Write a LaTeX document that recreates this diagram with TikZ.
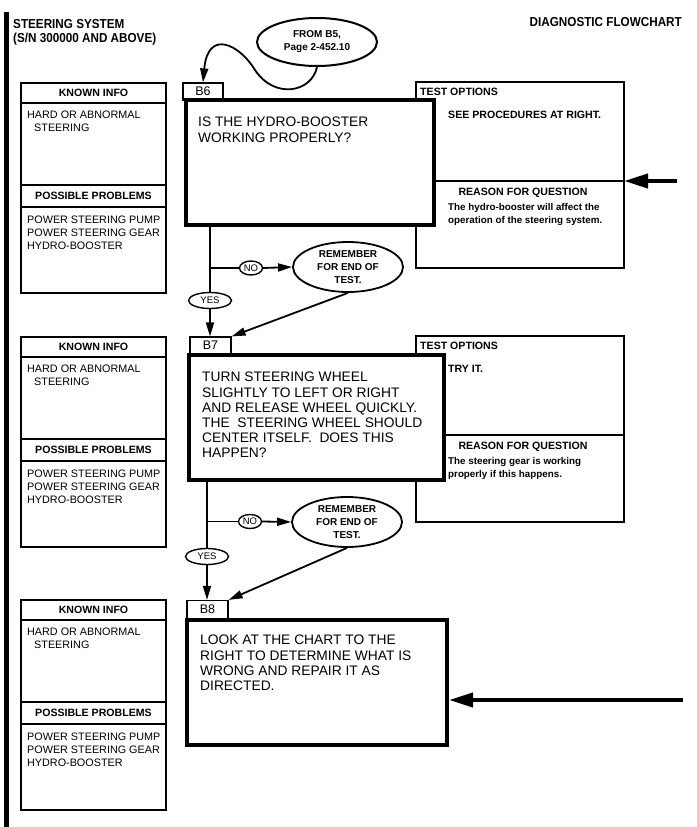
\documentclass[tikz,border=0pt]{standalone}
\usepackage{fontspec}
\setmainfont{Liberation Sans}
\newfontfamily\headfont[FakeStretch=0.9]{Liberation Sans}
\usetikzlibrary{shapes.geometric,arrows.meta}

\begin{document}
\begin{tikzpicture}[x=1pt,y=-1pt,
 title/.style={inner sep=0pt,font=\headfont\bfseries\fontsize{13}{15}\selectfont},
 lbl/.style={draw,line width=1.2pt,inner sep=0pt,font=\fontsize{12.5}{14}\selectfont},
 qbox/.style={draw,line width=4pt,fill=white,inner sep=0pt},
 qtext/.style={anchor=north west,align=left,inner sep=0pt,font=\fontsize{13.8}{15.2}\selectfont},
 hdr/.style={inner sep=0pt,font=\bfseries\fontsize{10.6}{12}\selectfont},
 list/.style={anchor=north west,align=left,inner sep=0pt,font=\fontsize{10.8}{13}\selectfont},
 why/.style={anchor=north west,align=left,inner sep=0pt,font=\bfseries\fontsize{9.8}{13}\selectfont},
 rem/.style={ellipse,draw,line width=1.8pt,minimum width=110pt,minimum height=50pt,inner sep=0pt,align=center,font=\bfseries\fontsize{10}{13}\selectfont},
 yn/.style={ellipse,draw,line width=1.4pt,inner sep=0pt,font=\fontsize{9.5}{10}\selectfont},
 conn/.style={line width=1.8pt},
 arr/.style={line width=1.8pt,-{Triangle[length=14pt,width=8pt]}},
 bigarr/.style={line width=4pt,-{Triangle[length=24pt,width=14pt]}}
]
\useasboundingbox (0,0) rectangle (696,827);
\fill (4,12) rectangle (9,827);

% page heading
\node[title,anchor=base west] (title1) at (13,28) {STEERING SYSTEM};
\node[title,anchor=base west] (title2) at (13,42) {(S/N 300000 AND ABOVE)};
\node[title,anchor=base east] (title3) at (682,26) {DIAGNOSTIC FLOWCHART};

\node[ellipse,draw,line width=2pt,minimum width=120pt,minimum height=48pt,inner sep=0pt,
 align=center,font=\bfseries\fontsize{10}{13}\selectfont] (from5) at (317,42) {FROM B5,\\Page 2-452.10};

% known info / possible problems
\foreach \y in {83,337,600} {
  \draw[line width=1.2pt] (21,\y) rectangle (166,\y+210);
  \draw[line width=1.2pt] (21,\y+20) -- (166,\y+20);
  \draw[line width=1.2pt] (21,\y+102) -- (166,\y+102);
  \draw[line width=1.2pt] (21,\y+124) -- (166,\y+124);
  \node[hdr] (known\y) at (93.5,\y+10) {KNOWN INFO};
  \node[list] (info\y) at (27,\y+28) {HARD OR ABNORMAL\\\hspace*{7pt}STEERING};
  \node[hdr] (poss\y) at (93.5,\y+113) {POSSIBLE PROBLEMS};
  \node[list] (prob\y) at (27,\y+133) {POWER STEERING PUMP\\POWER STEERING GEAR\\HYDRO-BOOSTER};
}

% test options / reason for question
\foreach \y/\opt/\reason in {82/{SEE PROCEDURES AT RIGHT.}/{The hydro-booster will affect the\\operation of the steering system.},
  336/{TRY IT.}/{The steering gear is working\\properly if this happens.}} {
  \draw[line width=1.4pt] (416,\y) rectangle (624,\y+186);
  \draw[line width=1.4pt] (416,\y+99) -- (624,\y+99);
  \coordinate (tr\y) at (624,\y+99);
  \node[hdr,anchor=west] (test\y) at (420,\y+10) {TEST OPTIONS};
  \node[hdr,anchor=west] (opt\y) at (448,\y+33) {\opt};
  \node[hdr] (reason\y) at (523,\y+111) {REASON FOR QUESTION};
  \node[why] (why\y) at (448,\y+121) {\reason};
}

% step labels and question boxes
\node[lbl,minimum width=40pt,minimum height=17pt] (lab6) at (203,91.5) {B6};
\node[lbl,minimum width=41pt,minimum height=17pt] (lab7) at (210.5,345.5) {B7};
\node[lbl,minimum width=41pt,minimum height=18pt] (lab8) at (207.5,609.5) {B8};

\node[qbox,minimum width=248pt,minimum height=125pt] (q6) at (310,162.5) {};
\node[qbox,minimum width=255pt,minimum height=125pt] (q7) at (316.5,417.5) {};
\node[qbox,minimum width=260pt,minimum height=125pt] (q8) at (317,682.5) {};

\node[qtext] (t6) at (198,117) {IS THE HYDRO-BOOSTER\\WORKING PROPERLY?};
\node[qtext] (t7) at (202,372) {TURN STEERING WHEEL\\SLIGHTLY TO LEFT OR RIGHT\\AND RELEASE WHEEL QUICKLY.\\THE\ \ STEERING WHEEL SHOULD\\CENTER ITSELF.\ \ DOES THIS\\HAPPEN?};
\node[qtext] (t8) at (200,635) {LOOK AT THE CHART TO THE\\RIGHT TO DETERMINE WHAT IS\\WRONG AND REPAIR IT AS\\DIRECTED.};

% entry curve
\draw[arr] (from5.south) .. controls (312,92) and (275,100) .. (255,70)
 .. controls (240,45) and (208,28) .. (lab6.north);

% B6 answers
\node[yn,minimum width=43pt,minimum height=16pt] (yes6) at (210,300.5) {YES};
\node[yn,minimum width=23pt,minimum height=14pt] (no6) at (251,268) {NO};
\node[rem] (rem6) at (348,267) {REMEMBER\\FOR END OF\\TEST.};
\draw[conn] (yes6.north |- q6.south) -- (yes6.north);
\draw[conn] (yes6.north |- no6) -- (no6.west);
\draw[arr] (no6.east) -- (rem6.west);
\draw[arr] (yes6.south) -- (yes6.south |- lab7.north);
\draw[arr] (rem6.south) -- (lab7.north east);

% B7 answers
\node[yn,minimum width=43pt,minimum height=16pt] (yes7) at (207,556.5) {YES};
\node[yn,minimum width=23pt,minimum height=14pt] (no7) at (250,521.5) {NO};
\node[rem] (rem7) at (347,522) {REMEMBER\\FOR END OF\\TEST.};
\draw[conn] (yes7.north |- q7.south) -- (yes7.north);
\draw[conn] (yes7.north |- no7) -- (no7.west);
\draw[arr] (no7.east) -- (rem7.west);
\draw[arr] (yes7.south) -- (yes7.south |- lab8.north);
\draw[arr] (rem7.south) -- (lab8.north east);

% arrows from the right
\coordinate (in6) at (677,181);
\coordinate (in8) at (683,700);
\draw[bigarr] (in6) -- (tr82);
\draw[bigarr] (in8) -- (q8.east |- in8);
\end{tikzpicture}
\end{document}
